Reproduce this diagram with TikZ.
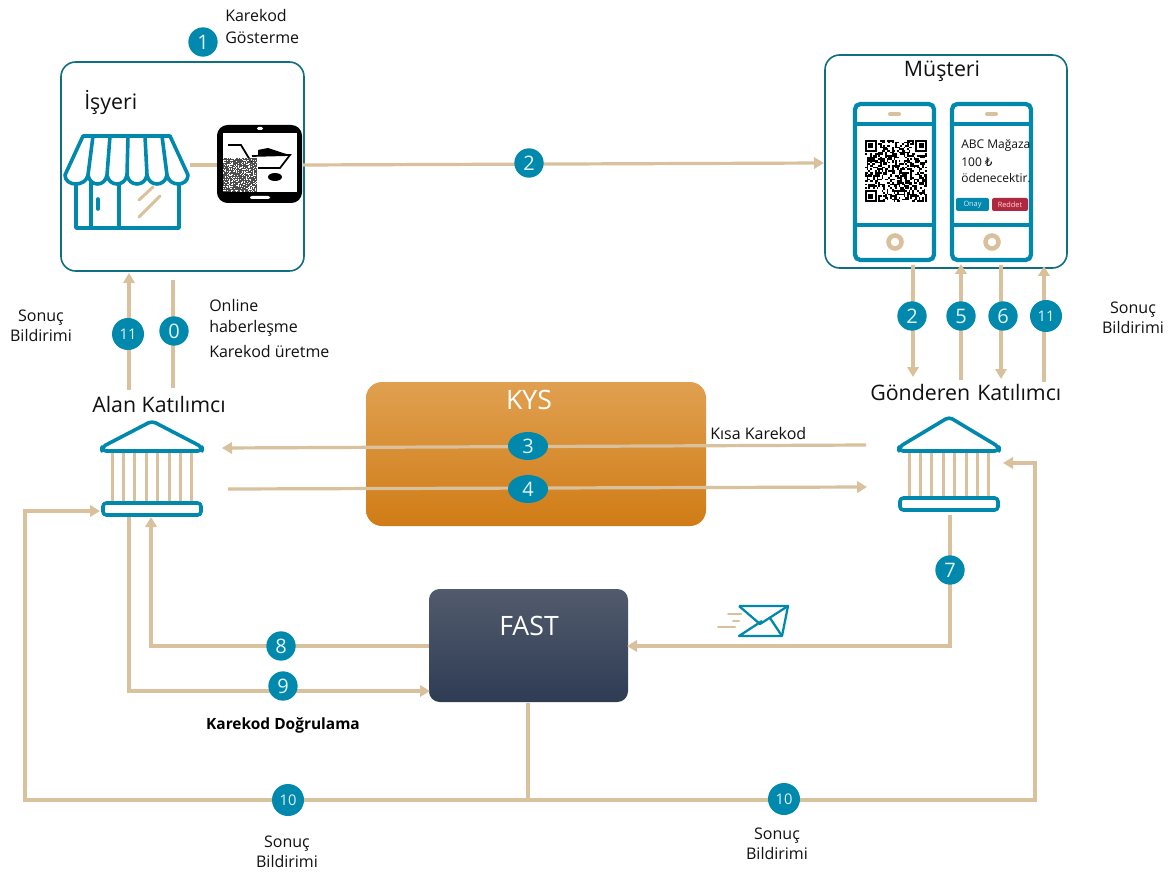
\documentclass[tikz,border=0pt]{standalone}
\usepackage{fontspec}
\setmainfont{Open Sans}
\newfontfamily\lirafont{DejaVu Sans}
\usetikzlibrary{arrows.meta,calc,shapes.geometric}
\definecolor{teal1}{HTML}{0089AD}
\definecolor{frameC}{HTML}{0F6E84}
\definecolor{tan1}{HTML}{D8C19C}
\definecolor{txt}{HTML}{111111}
\definecolor{kysA}{HTML}{E0A050}
\definecolor{kysB}{HTML}{E49428}
\definecolor{kysC}{HTML}{D07C16}
\definecolor{fastA}{HTML}{525B6C}
\definecolor{fastB}{HTML}{2E3C54}
\definecolor{redd}{HTML}{B0283F}
\pgfdeclarelayer{bgl}\pgfdeclarelayer{conn}
\pgfsetlayers{bgl,conn,main}
\tikzset{
  px/.style={font=\fontsize{#1}{#1}\selectfont},
  link/.style={draw=tan1,line width=2.4pt},
  arr/.style={link,-{Triangle[length=7.5pt,width=8.5pt]}},
  badge/.style={circle,fill=teal1,text=white!90!teal1,inner sep=0pt,minimum size=22pt,font=\fontsize{15}{15}\selectfont},
  badgesm/.style={badge,font=\fontsize{11}{11}\selectfont},
  frameb/.style={draw=frameC,line width=1.2pt,fill=white,rounded corners=11pt},
  lbl/.style={px=12,text=txt,align=center,inner sep=0pt},
  lbll/.style={px=12,text=txt,align=left,inner sep=0pt,anchor=west},
  title/.style={px=16,text=txt,inner sep=0pt},
  teale/.style={draw=teal1,line width=2.7pt,line join=round,line cap=round},
  tanthin/.style={draw=tan1,line width=2.2pt,line cap=round},
}
\newcommand{\qrfinder}[4]{%
  \fill[#4] (#1,#2) rectangle ++(#3*7,#3*7);
  \fill[white] (#1+#3,#2+#3) rectangle ++(#3*5,#3*5);
  \fill[#4] (#1+#3*2,#2+#3*2) rectangle ++(#3*3,#3*3);
}
\newcommand{\qrnoise}[5]{% x y size cells colour
  \pgfmathsetmacro{\qc}{#3/#4}
  \pgfmathsetseed{#4}
  \pgfmathtruncatemacro{\qn}{#4-1}
  \foreach \qi in {0,...,\qn}{\foreach \qj in {0,...,\qn}{%
    \pgfmathrandominteger{\qr}{0}{1}
    \ifnum\qr=1 \fill[#5] ({#1+\qi*\qc},{#2+\qj*\qc}) rectangle ++(\qc,\qc);\fi
  }}
}
\newcommand{\qrcodeart}[5]{% x y size cells colour
  \qrnoise{#1}{#2}{#3}{#4}{#5}
  \pgfmathsetmacro{\qc}{#3/#4}
  \fill[white] (#1,#2) rectangle ++({8*\qc},{8*\qc});
  \fill[white] ({#1+#3-8*\qc},#2) rectangle ++({8*\qc},{8*\qc});
  \fill[white] (#1,{#2+#3-8*\qc}) rectangle ++({8*\qc},{8*\qc});
  \qrfinder{#1}{#2}{\qc}{#5}
  \qrfinder{#1+#3-7*\qc}{#2}{\qc}{#5}
  \qrfinder{#1}{#2+#3-7*\qc}{\qc}{#5}
}
\newcommand{\bankart}[3]{% cx roofTop barTop
  \foreach \k in {-3.5,-2.5,...,3.5}{\draw[tan1,line width=2.3pt] ({#1+\k*11.4},453) -- ({#1+\k*11.4},#3);}
  \draw[teale,rounded corners=3pt,fill=white] (#1,#2) -- ({#1+50},447) -- ({#1+50},451) -- ({#1-50},451) -- ({#1-50},447) -- cycle;
  \draw[teale,rounded corners=2.5pt,fill=white] ({#1-49},#3) rectangle ({#1+49},{#3+12});
}
\newcommand{\phoneart}[1]{%
  \draw[draw=teal1,line width=3.2pt,rounded corners=4pt,fill=white] (#1,104) rectangle ({#1+79},260);
  \draw[teal1,line width=3.2pt] (#1,124) -- ({#1+79},124) (#1,225) -- ({#1+79},225);
  \draw[tan1,line width=3pt,line cap=round] ({#1+35},114) -- ({#1+44},114);
  \draw[tan1,line width=3.4pt] ({#1+40},242) circle (6.5);
}
\begin{document}
\begin{tikzpicture}[x=0.75pt,y=-0.75pt]
\useasboundingbox (0,0) rectangle (1173,873);

% --- frames and big boxes ---
\begin{pgfonlayer}{bgl}
\fill[white] (0,0) rectangle (1173,873);
\node[frameb,minimum width=182.25pt,minimum height=156.75pt,inner sep=0pt] (isyeri) at (182.5,166.5) {};
\node[frameb,minimum width=181.5pt,minimum height=159.75pt,inner sep=0pt] (musteri) at (946,161.5) {};
\shade[top color=kysA,middle color=kysB,bottom color=kysC,rounded corners=12pt] (366,382) rectangle (706,526);
\shade[top color=fastA,bottom color=fastB,rounded corners=8pt] (429,589) rectangle (628,702);
\end{pgfonlayer}
\node[px=20,text=white,inner sep=0pt] (kys) at (529,400) {KYS};
\node[px=20,text=white,inner sep=0pt] (fast) at (529,626) {FAST};

% --- named ends of connectors ---
\coordinate (shopE) at (190,165);
\coordinate (tabW) at (218,165);
\coordinate (tabE) at (303,165);
\coordinate (musW) at (824,163);
\coordinate (a11a) at (129,390);
\coordinate (a11b) at (129,273);
\coordinate (a0a) at (173,388);
\coordinate (a0b) at (173,280);
\coordinate (r2a) at (913,265);
\coordinate (r2b) at (913,377);
\coordinate (r5a) at (961,380);
\coordinate (r5b) at (961,264);
\coordinate (r6a) at (1001,265);
\coordinate (r6b) at (1001,379);
\coordinate (r11a) at (1044,382);
\coordinate (r11b) at (1044,266);
\coordinate (k3a) at (866,445);
\coordinate (k3b) at (222,448);
\coordinate (k4a) at (228,489);
\coordinate (k4b) at (867,487);
\coordinate (g7a) at (950,515);
\coordinate (g7b) at (950,646);
\coordinate (fastE) at (627,646);
\coordinate (fast8) at (429,646);
\coordinate (c8) at (151,646);
\coordinate (bank8) at (151,517);
\coordinate (bank9) at (129,517);
\coordinate (c9) at (129,691);
\coordinate (fast9) at (430,691);
\coordinate (fastS) at (528,703);
\coordinate (c10a) at (528,800);
\coordinate (c10b) at (25,800);
\coordinate (c10c) at (25,511);
\coordinate (bankL) at (100,511);
\coordinate (c10d) at (1035,800);
\coordinate (c10e) at (1035,463);
\coordinate (bankR) at (1003,463);

% --- badges ---
\node[badge] (n1) at (203,42) {1};
\node[badge] (n2a) at (529,163) {2};
\node[badgesm,minimum size=24pt] (n11l) at (128,334) {11};
\node[badge] (n0) at (174,331) {0};
\node[badge] (n2b) at (912,316) {2};
\node[badge] (n5) at (961,316) {5};
\node[badge] (n6) at (1003,316) {6};
\node[badgesm,minimum size=24pt] (n11r) at (1046,316) {11};
\node[badge,ellipse,minimum width=30pt,minimum height=21pt] (n3) at (528,446) {3};
\node[badge,ellipse,minimum width=30pt,minimum height=21pt] (n4) at (528,489) {4};
\node[badge] (n7) at (950,570) {7};
\node[badge] (n8) at (281,646) {8};
\node[badge] (n9) at (283,686) {9};
\node[badgesm,minimum size=24pt] (n10l) at (288,800) {10};
\node[badgesm,minimum size=24pt] (n10r) at (784,799) {10};

% --- connectors ---
\begin{pgfonlayer}{conn}
\draw[link] (shopE) -- (tabW);
\draw[arr] (tabE) -- (musW);
\draw[arr] (a11a) -- (a11b);
\draw[link] (a0a) -- (a0b);
\draw[arr] (r2a) -- (r2b);
\draw[arr] (r5a) -- (r5b);
\draw[arr] (r6a) -- (r6b);
\draw[arr] (r11a) -- (r11b);
\draw[arr] (k3a) -- (k3b);
\draw[arr] (k4a) -- (k4b);
\draw[arr] (g7a) -- (g7b) -- (fastE);
\draw[arr] (fast8) -- (c8) -- (bank8);
\draw[arr] (bank9) -- (c9) -- (fast9);
\draw[arr] (fastS) -- (c10a) -- (c10b) -- (c10c) -- (bankL);
\draw[arr] (c10a) -- (c10d) -- (c10e) -- (bankR);
\end{pgfonlayer}

% --- shop icon ---
\draw[teale,fill=white] (76,183) -- (76,228) -- (179,228) -- (179,183);
\draw[teale] (91,183) -- (91,228) (119,183) -- (119,228);
\draw[teale] (98,199) -- (98,209);
\draw[tanthin] (139,200) -- (153,187) (139,217) -- (160,196);
\draw[teale,fill=white] (83,136) -- (170,136) -- (188,175)
  .. controls (188,187) and (169,187) .. (167,175)
  .. controls (165,187) and (149,187) .. (147,175)
  .. controls (145,187) and (129,187) .. (127,175)
  .. controls (125,187) and (109,187) .. (107,175)
  .. controls (105,187) and (90,187) .. (88,175)
  .. controls (86,187) and (65,187) .. (65,175) -- cycle;
\draw[teale] (93,136) -- (88,175) (110,136) -- (107,175) (128,136) -- (127,175) (145,136) -- (147,175) (162,136) -- (167,175);

% --- tablet ---
\fill[black,rounded corners=8pt] (217,125) rectangle (302,203);
\fill[white] (223,133) rectangle (297,192);
\fill[white,rounded corners=1pt] (257,127) rectangle (263,130);
\fill[white,rounded corners=1.5pt] (250,196) rectangle (270,199);
\draw[black,line width=1.3pt] (228,145) -- (241,145) -- (253,165);
\fill[black] (258,150) -- (268,148) -- (283,153) -- (290,155) -- (258,156) -- cycle;
\draw[black,line width=1.3pt] (252,156) -- (290,155) -- (280,168) -- (258,168);
\fill[black] (275,177) ellipse (7 and 4);
\qrnoise{223}{158}{34}{50}{black!70}

% --- phones ---
\phoneart{855}
\phoneart{952}
\qrcodeart{865}{140}{62}{37}{black}
\node[px=9,text=txt,inner sep=0pt,anchor=west] (ph1) at (961,146) {ABC Mağaza};
\node[px=9,text=txt,inner sep=0pt,anchor=west] (ph2) at (961,162) {100 {\lirafont ₺}};
\node[px=9,text=txt,inner sep=0pt,anchor=west] (ph3) at (961,178) {ödenecektir.};
\fill[teal1,rounded corners=1.5pt] (956,198) rectangle (989,211);
\node[px=5.5,text=white!85!teal1,inner sep=0pt] (onay) at (972.5,204.5) {Onay};
\fill[redd,rounded corners=1.5pt] (992,198) rectangle (1028,211);
\node[px=5.5,text=white!85!red,inner sep=0pt] (reddet) at (1010,204.5) {Reddet};

% --- banks ---
\bankart{152}{421}{503}
\bankart{949}{417}{498}

% --- envelope ---
\draw[teal1,line width=1.7pt,line join=round] (739,606) -- (788,606) -- (782,636) -- (739,636) -- (762,621);
\draw[teal1,line width=1.7pt,line join=round] (739,606) -- (760,624) -- (788,606);
\draw[teal1,line width=1.7pt] (770,618) -- (782,636);
\draw[tanthin,line width=1.5pt] (728,614) -- (741,614) (733,621) -- (739,621) (718,627) -- (735,627);

% --- texts ---
\node[px=16,text=txt,inner sep=0pt,anchor=west] (tis) at (84,102) {İşyeri};
\node[px=16,text=txt,inner sep=0pt] (tmu) at (942,71) {Müşteri};
\node[lbll] (tk1) at (225,16) {Karekod};
\node[lbll] (tk2) at (225,38) {Gösterme};
\node[lbl] (ts1) at (41,326) {Sonuç\\[3pt]Bildirimi};
\node[lbll] (tol1) at (209,305) {Online};
\node[lbll] (tol2) at (209,328) {haberleşme};
\node[lbll] (tol3) at (209,351) {Karekod üretme};
\node[title] (talan) at (159,404) {Alan Katılımcı};
\node[title,anchor=west] (tgon) at (870,392) {Gönderen};
\node[title,anchor=west] (tkat) at (977,392) {Katılımcı};
\node[lbl] (ts2) at (1133,318) {Sonuç\\[3pt]Bildirimi};
\node[lbll] (tkk) at (710,433) {Kısa Karekod};
\node[text=black,inner sep=0pt,font=\bfseries\fontsize{11.6}{11.6}\selectfont] (tdog) at (283,725) {Karekod Doğrulama};
\node[lbl] (ts3) at (287,852) {Sonuç\\[3pt]Bildirimi};
\node[lbl] (ts4) at (777,844) {Sonuç\\[3pt]Bildirimi};
\end{tikzpicture}
\end{document}
